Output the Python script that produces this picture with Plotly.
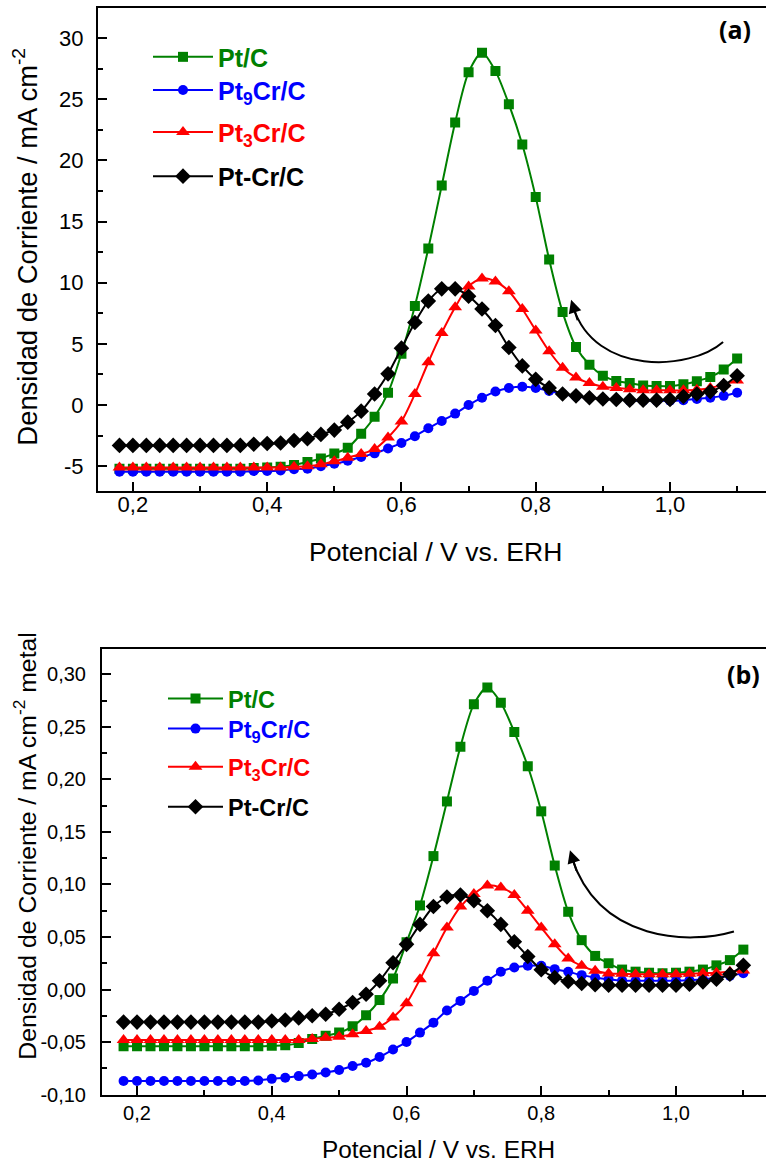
import plotly.graph_objects as go

# ---------------- data ----------------
potential = [0.18, 0.20, 0.22, 0.24, 0.26, 0.28, 0.30, 0.32, 0.34, 0.36, 0.38, 0.40,
             0.42, 0.44, 0.46, 0.48, 0.50, 0.52, 0.54, 0.56, 0.58, 0.60, 0.62, 0.64,
             0.66, 0.68, 0.70, 0.72, 0.74, 0.76, 0.78, 0.80, 0.82, 0.84, 0.86, 0.88,
             0.90, 0.92, 0.94, 0.96, 0.98, 1.00, 1.02, 1.04, 1.06, 1.08, 1.10]

series_names = ["Pt/C", "Pt<sub>9</sub>Cr/C", "Pt<sub>3</sub>Cr/C", "Pt-Cr/C"]

# panel (a): mA cm-2
a_ptc = [-5.2, -5.2, -5.2, -5.2, -5.2, -5.2, -5.2, -5.2, -5.2, -5.2, -5.15, -5.1,
         -5.05, -4.9, -4.65, -4.37, -3.96, -3.5, -2.35, -0.96, 1.0, 4.2, 8.1, 12.8,
         17.95, 23.1, 27.2, 28.8, 27.3, 24.6, 21.3, 17.0, 11.9, 7.6, 4.75, 3.3,
         2.4, 1.97, 1.8, 1.6, 1.55, 1.55, 1.7, 1.95, 2.3, 2.9, 3.8]
a_pt9cr = [-5.45, -5.45, -5.45, -5.45, -5.45, -5.45, -5.45, -5.45, -5.45, -5.45, -5.4, -5.4,
           -5.35, -5.25, -5.2, -5.0, -4.8, -4.55, -4.25, -3.95, -3.55, -3.1, -2.55, -1.9,
           -1.3, -0.7, 0.0, 0.6, 1.1, 1.4, 1.5, 1.4, 1.15, 0.9, 0.7, 0.6,
           0.5, 0.45, 0.35, 0.35, 0.35, 0.35, 0.4, 0.5, 0.6, 0.75, 1.0]
a_pt3cr = [-5.1, -5.1, -5.1, -5.1, -5.1, -5.1, -5.1, -5.1, -5.1, -5.1, -5.1, -5.1,
           -5.1, -5.05, -5.0, -4.85, -4.6, -4.3, -4.0, -3.6, -2.65, -1.35, 0.9, 3.5,
           5.9, 8.0, 9.7, 10.35, 10.1, 9.3, 7.85, 6.1, 4.4, 3.05, 2.25, 1.8,
           1.5, 1.4, 1.3, 1.2, 1.2, 1.2, 1.2, 1.25, 1.4, 1.7, 2.0]
a_ptcr = [-3.3, -3.3, -3.3, -3.3, -3.3, -3.3, -3.3, -3.3, -3.3, -3.3, -3.2, -3.15,
          -3.1, -2.9, -2.75, -2.4, -2.05, -1.4, -0.5, 0.9, 2.55, 4.65, 6.75, 8.5,
          9.5, 9.5, 8.9, 7.85, 6.5, 4.7, 3.2, 2.1, 1.4, 0.9, 0.75, 0.6,
          0.5, 0.45, 0.4, 0.4, 0.4, 0.45, 0.7, 0.9, 1.1, 1.6, 2.4]

# panel (b): mA cm-2 metal
b_ptc = [-0.054, -0.054, -0.054, -0.054, -0.054, -0.054, -0.054, -0.054, -0.054, -0.054, -0.054, -0.0535,
         -0.053, -0.051, -0.047, -0.044, -0.041, -0.035, -0.0245, -0.010, 0.0105, 0.045, 0.080, 0.127,
         0.179, 0.231, 0.2716, 0.2875, 0.273, 0.245, 0.2125, 0.1696, 0.118, 0.074, 0.047, 0.032,
         0.025, 0.019, 0.017, 0.016, 0.0155, 0.016, 0.017, 0.019, 0.023, 0.028, 0.038]
b_pt9cr = [-0.087, -0.087, -0.087, -0.087, -0.087, -0.087, -0.087, -0.087, -0.087, -0.087, -0.0865, -0.085,
           -0.084, -0.0824, -0.0808, -0.079, -0.0766, -0.0728, -0.0697, -0.0642, -0.057, -0.050, -0.041, -0.0315,
           -0.020, -0.0108, -0.0013, 0.0083, 0.0169, 0.021, 0.0226, 0.0226, 0.0194, 0.0169, 0.0137, 0.0115,
           0.0098, 0.0085, 0.0083, 0.0083, 0.0083, 0.0083, 0.0088, 0.0098, 0.0115, 0.013, 0.0156]
b_pt3cr = [-0.048, -0.048, -0.048, -0.048, -0.048, -0.048, -0.048, -0.048, -0.048, -0.048, -0.048, -0.048,
           -0.048, -0.048, -0.047, -0.0458, -0.045, -0.0426, -0.0394, -0.0353, -0.0267, -0.013, 0.0098, 0.0346,
           0.059, 0.079, 0.091, 0.099, 0.097, 0.090, 0.075, 0.059, 0.043, 0.0296, 0.0226, 0.0178,
           0.0153, 0.015, 0.0145, 0.0145, 0.0145, 0.0145, 0.015, 0.0155, 0.016, 0.017, 0.018]
b_ptcr = [-0.031, -0.031, -0.031, -0.031, -0.031, -0.031, -0.031, -0.031, -0.031, -0.031, -0.031, -0.030,
          -0.029, -0.027, -0.025, -0.0235, -0.0188, -0.0124, -0.0045, 0.0083, 0.0255, 0.043, 0.062, 0.079,
          0.088, 0.090, 0.0846, 0.075, 0.062, 0.0455, 0.0315, 0.0188, 0.0115, 0.0076, 0.0057, 0.0045,
          0.0041, 0.0041, 0.0041, 0.0041, 0.0041, 0.0041, 0.005, 0.0073, 0.0098, 0.0146, 0.023]

x_tickvals = [0.2, 0.4, 0.6, 0.8, 1.0]
x_ticktext = ["0,2", "0,4", "0,6", "0,8", "1,0"]
x_minor = [0.3, 0.5, 0.7, 0.9, 1.1]
ya_tickvals = [-5, 0, 5, 10, 15, 20, 25, 30]
ya_ticktext = ["-5", "0", "5", "10", "15", "20", "25", "30"]
ya_minor = [-2.5, 2.5, 7.5, 12.5, 17.5, 22.5, 27.5]
yb_tickvals = [-0.10, -0.05, 0.00, 0.05, 0.10, 0.15, 0.20, 0.25, 0.30]
yb_ticktext = ["-0,10", "-0,05", "0,00", "0,05", "0,10", "0,15", "0,20", "0,25", "0,30"]
yb_minor = [-0.075, -0.025, 0.025, 0.075, 0.125, 0.175, 0.225, 0.275]

colors = ["#008000", "#0000FF", "#FF0000", "#000000"]
symbols = ["square", "circle", "triangle-up", "diamond"]
msizes = [10, 10, 12, 12]

W = 766
REF_H = 1162          # reference picture height (positions below measured in it)
FIG_H = 1176          # figure height
FONT = "Liberation Sans"


def fy(px):
    """paper y fraction for a position measured from the top of the reference"""
    return 1 - px / REF_H


# legend entry positions (pixels from top of reference) for each panel
legend_top_a = [34, 67, 109, 153]
legend_top_b = [675, 705, 743, 783]

fig = go.Figure()

panel_a = [a_ptc, a_pt9cr, a_pt3cr, a_ptcr]
panel_b = [b_ptc, b_pt9cr, b_pt3cr, b_ptcr]
legend_layout = {}
for i, ys in enumerate(panel_a):
    lg = "legend" if i == 0 else f"legend{i + 1}"
    fig.add_trace(go.Scatter(
        x=potential, y=ys, mode="lines+markers",
        line=dict(color=colors[i], width=2, shape="spline", smoothing=0.8),
        marker=dict(symbol=symbols[i], size=msizes[i], color=colors[i]),
        name=f'<b><span style="color:{colors[i]}">{series_names[i]}</span></b>',
        legend=lg, xaxis="x", yaxis="y"))
    legend_layout[lg] = dict(x=148 / W, y=fy(legend_top_a[i]), xanchor="left", yanchor="top",
                             font=dict(family=FONT, size=25), bgcolor="rgba(0,0,0,0)",
                             itemwidth=60)
for i, ys in enumerate(panel_b):
    lg = f"legend{i + 5}"
    fig.add_trace(go.Scatter(
        x=potential, y=ys, mode="lines+markers",
        line=dict(color=colors[i], width=2, shape="spline", smoothing=0.8),
        marker=dict(symbol=symbols[i], size=msizes[i], color=colors[i]),
        name=f'<b><span style="color:{colors[i]}">{series_names[i]}</span></b>',
        legend=lg, xaxis="x2", yaxis="y2"))
    legend_layout[lg] = dict(x=163 / W, y=fy(legend_top_b[i]), xanchor="left", yanchor="top",
                             font=dict(family=FONT, size=23.5), bgcolor="rgba(0,0,0,0)",
                             itemwidth=55)

axis_common = dict(showline=True, linecolor="black", linewidth=2, ticks="inside",
                   ticklen=9, tickwidth=2, tickcolor="black", showgrid=False,
                   zeroline=False, tickmode="array")
tick_font_a = dict(family=FONT, size=22, color="black")
tick_font_b = dict(family=FONT, size=20, color="black")

fig.update_layout(
    width=W, height=FIG_H, margin=dict(l=0, r=0, t=0, b=0),
    paper_bgcolor="white", plot_bgcolor="white",
    xaxis=dict(domain=[98 / W, 1.0], range=[0.148, 1.143], anchor="y",
               tickvals=x_tickvals, ticktext=x_ticktext, mirror=True, tickfont=tick_font_a,
               minor=dict(tickmode="array", tickvals=x_minor, ticks="inside", ticklen=5,
                          tickwidth=2, tickcolor="black"),
               ticklabelstandoff=-7, **axis_common),
    yaxis=dict(domain=[fy(489.4), fy(7.5)], range=[-7, 32.5], anchor="x",
               tickvals=ya_tickvals, ticktext=ya_ticktext, tickfont=tick_font_a,
               minor=dict(tickmode="array", tickvals=ya_minor, ticks="inside", ticklen=5,
                          tickwidth=2, tickcolor="black"),
               ticklabelstandoff=8, **axis_common),
    xaxis2=dict(domain=[102 / W, 1.0], range=[0.148, 1.1336], anchor="y2",
                tickvals=x_tickvals, ticktext=x_ticktext, mirror=True, tickfont=tick_font_b,
                minor=dict(tickmode="array", tickvals=x_minor, ticks="inside", ticklen=5,
                           tickwidth=2, tickcolor="black"),
                ticklabelstandoff=-1, **axis_common),
    yaxis2=dict(domain=[fy(1092), fy(647)], range=[-0.1002, 0.3244], anchor="x2",
                tickvals=yb_tickvals, ticktext=yb_ticktext, tickfont=tick_font_b,
                minor=dict(tickmode="array", tickvals=yb_minor, ticks="inside", ticklen=5,
                           tickwidth=2, tickcolor="black"),
                ticklabelstandoff=10, **axis_common),
    showlegend=True,
    **legend_layout,
)

annotations = [
    dict(text="Densidad de Corriente / mA cm<sup>-2</sup>", textangle=-90,
         x=26 / W, y=fy(246), xref="paper", yref="paper",
         xanchor="center", yanchor="middle", showarrow=False,
         font=dict(family=FONT, size=27.4, color="black")),
    dict(text="Potencial / V vs. ERH", x=435 / W, y=fy(551), xref="paper", yref="paper",
         xanchor="center", yanchor="middle", showarrow=False,
         font=dict(family=FONT, size=26.5, color="black")),
    dict(text="Densidad de Corriente / mA cm<sup>-2</sup> metal", textangle=-90,
         x=25 / W, y=fy(843.5), xref="paper", yref="paper",
         xanchor="center", yanchor="middle", showarrow=False,
         font=dict(family=FONT, size=24.8, color="black")),
    dict(text="Potencial / V vs. ERH", x=438.5 / W, y=fy(1147), xref="paper", yref="paper",
         xanchor="center", yanchor="middle", showarrow=False,
         font=dict(family=FONT, size=24.4, color="black")),
    dict(text="<b>(a)</b>", x=735 / W, y=fy(29), xref="paper", yref="paper",
         xanchor="center", yanchor="middle", showarrow=False,
         font=dict(family="Open Sans", size=25, color="black")),
    dict(text="<b>(b)</b>", x=743 / W, y=fy(672), xref="paper", yref="paper",
         xanchor="center", yanchor="middle", showarrow=False,
         font=dict(family="Open Sans", size=25, color="black")),
    # arrowheads for the sweep-direction arrows
    dict(x=0.8527, y=8.607, xref="x", yref="y", ax=7, ay=22, text="", showarrow=True,
         arrowhead=2, arrowsize=1.3, arrowwidth=2, arrowcolor="black"),
    dict(x=0.8426, y=0.1326, xref="x2", yref="y2", ax=7, ay=22, text="", showarrow=True,
         arrowhead=2, arrowsize=1.3, arrowwidth=2, arrowcolor="black"),
]
fig.update_layout(annotations=annotations)

shapes = [
    dict(type="path", xref="x", yref="y",
         path="M 1.0791 5.164 C 1.0299 2.787, 0.8884 2.377, 0.8560 8.0",
         line=dict(color="black", width=2)),
    dict(type="path", xref="x2", yref="y2",
         path="M 1.086 0.0553 C 1.0207 0.0429, 0.8871 0.0448, 0.8455 0.125",
         line=dict(color="black", width=2)),
]
fig.update_layout(shapes=shapes)

post = """
var de=document.documentElement, b=document.body;
de.style.margin='0'; de.style.padding='0'; de.style.overflow='hidden';
b.style.margin='0'; b.style.padding='0'; b.style.overflow='hidden';
"""
fig.write_html("out.html", config={"displayModeBar": False}, post_script=post)
